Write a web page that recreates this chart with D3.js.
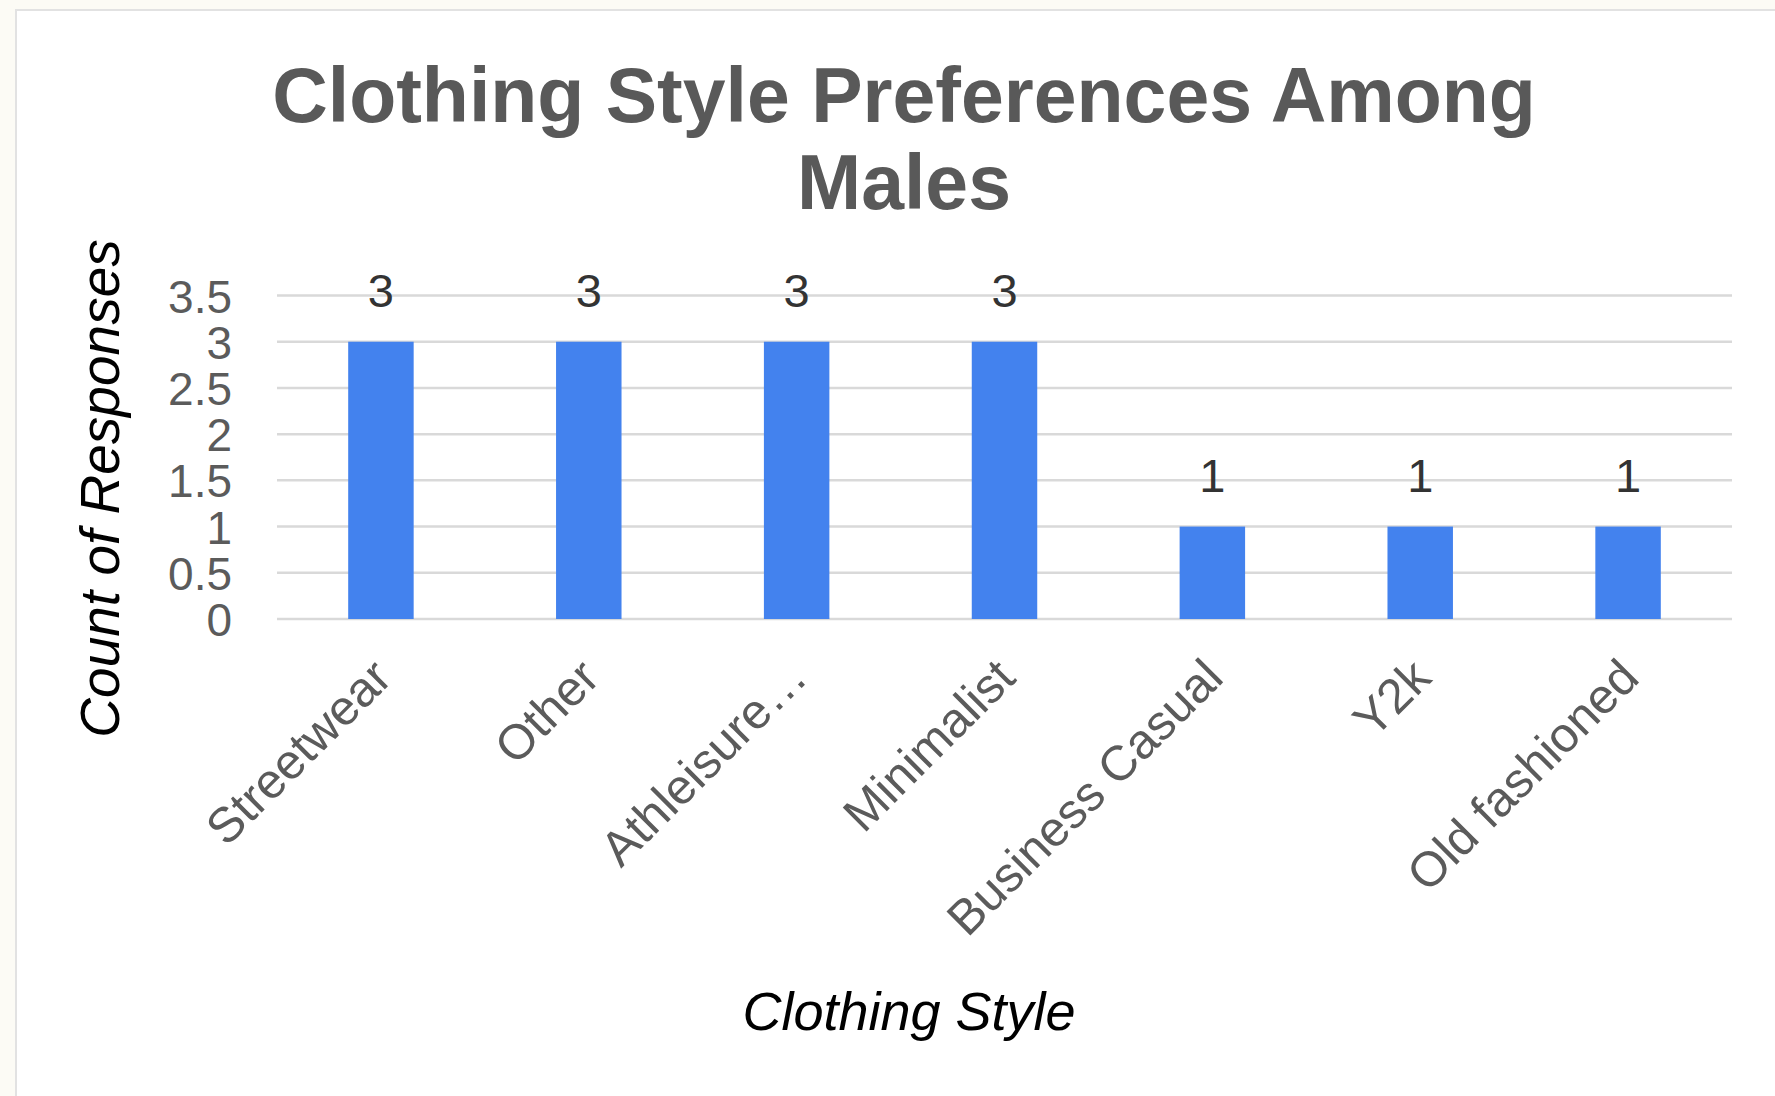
<!DOCTYPE html>
<html>
<head>
<meta charset="utf-8">
<script src="https://cdn.jsdelivr.net/npm/d3@7"></script>
<style>
  html, body { margin: 0; padding: 0; background: #fcfbf5; }
  svg { display: block; }
  text { font-family: "Liberation Sans", Arial, Helvetica, sans-serif; }
</style>
</head>
<body>
<svg id="chart" width="1775" height="1096"></svg>
<script>
const categories = ["Streetwear", "Other", "Athleisure…", "Minimalist", "Business Casual", "Y2k", "Old fashioned"];
const counts = [3, 3, 3, 3, 1, 1, 1];
const yTicks = [0, 0.5, 1, 1.5, 2, 2.5, 3, 3.5];
const titleLines = ["Clothing Style Preferences Among", "Males"];
const xTitle = "Clothing Style";
const yTitle = "Count of Responses";

const W = 1775, H = 1096;
const svg = d3.select("#chart");

// background card
svg.append("rect").attr("x", 0).attr("y", 0).attr("width", W).attr("height", H).attr("fill", "#fcfbf5");
svg.append("rect").attr("x", 16).attr("y", 10).attr("width", W + 20).attr("height", H + 20)
  .attr("fill", "#ffffff").attr("stroke", "#e2e2e2").attr("stroke-width", 2);

const plot = { left: 277, right: 1732, top: 295.5, bottom: 619 };

const x = d3.scaleBand().domain(categories).range([plot.left, plot.right])
  .paddingInner(0.685).paddingOuter(0.3425);
const y = d3.scaleLinear().domain([0, 3.5]).range([plot.bottom, plot.top]);

// gridlines
svg.append("g").selectAll("line").data(yTicks).join("line")
  .attr("x1", plot.left).attr("x2", plot.right)
  .attr("y1", d => y(d)).attr("y2", d => y(d))
  .attr("stroke", "#d9d9d9").attr("stroke-width", 2.5);

// y axis labels
const yAxis = d3.axisLeft(y).tickValues(yTicks).tickSize(0).tickPadding(0).tickFormat(d3.format("~g"));
const gy = svg.append("g").attr("transform", `translate(${232},0)`).call(yAxis);
gy.select(".domain").remove();
gy.selectAll("text").attr("font-size", 46).attr("fill", "#5b5b5b")
  .style("font-family", "'Liberation Sans', Arial, sans-serif").attr("dy", "0.36em");

// bars
svg.append("g").selectAll("rect").data(categories).join("rect")
  .attr("x", d => x(d)).attr("width", x.bandwidth())
  .attr("y", (d, i) => y(counts[i])).attr("height", (d, i) => y(0) - y(counts[i]))
  .attr("fill", "#4382ee");

// data labels
svg.append("g").selectAll("text").data(categories).join("text")
  .attr("x", d => x(d) + x.bandwidth() / 2)
  .attr("y", (d, i) => y(counts[i]) - 35)
  .attr("text-anchor", "middle").attr("font-size", 47).attr("fill", "#333333")
  .text((d, i) => counts[i]);

// x axis labels
const xAxis = d3.axisBottom(x).tickSize(0).tickPadding(0);
const gx = svg.append("g").attr("transform", `translate(0,${plot.bottom})`).call(xAxis);
gx.select(".domain").remove();
gx.selectAll("text")
  .attr("font-size", 49).attr("fill", "#5b5b5b")
  .style("font-family", "'Liberation Sans', Arial, sans-serif")
  .attr("text-anchor", "end")
  .attr("dy", "0.35em").attr("y", 0)
  .attr("transform", "translate(1,49) rotate(-45)");

// title
const title = svg.append("text").attr("text-anchor", "middle").attr("fill", "#595959")
  .attr("font-size", 77).attr("font-weight", "bold");
titleLines.forEach((t, i) => {
  title.append("tspan").attr("x", 904).attr("y", 122 + i * 87).text(t);
});

// axis titles
svg.append("text").attr("x", 909).attr("y", 1030).attr("text-anchor", "middle")
  .attr("font-size", 54).attr("font-style", "italic").attr("fill", "#000").text(xTitle);

svg.append("text").attr("transform", `translate(119,${(213 + 650) / 2 * 1.132}) rotate(-90)`)
  .attr("text-anchor", "middle").attr("font-size", 55).attr("font-style", "italic")
  .attr("fill", "#000").text(yTitle);
</script>
</body>
</html>
